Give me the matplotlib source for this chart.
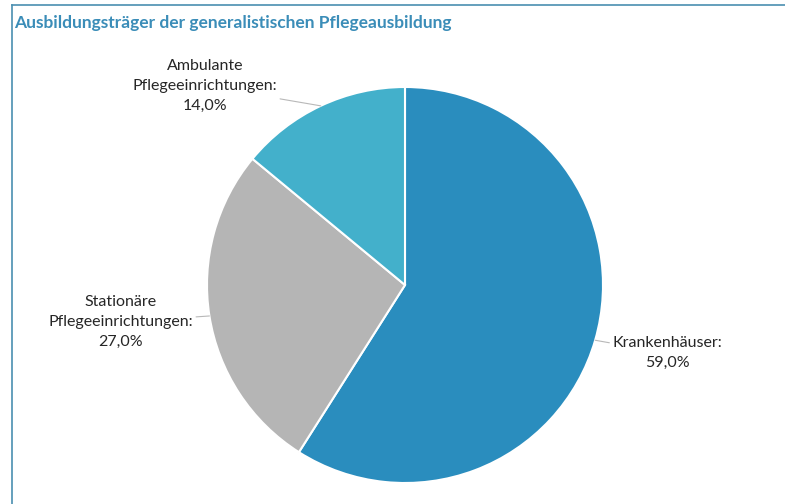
import matplotlib.pyplot as plt
import numpy as np

# data
labels = ["Krankenhäuser:", "Stationäre\nPflegeeinrichtungen:", "Ambulante\nPflegeeinrichtungen:"]
shares = [59.0, 27.0, 14.0]
colors = ["#2a8dbe", "#b5b5b5", "#43b0cb"]

# label text centres in pixels (x from left, y from top)
label_pos = [(667, 353), (121, 322), (205, 86)]

W, H = 785, 504
fig = plt.figure(figsize=(W / 100, H / 100), dpi=100)
fig.patch.set_facecolor("white")

# pie axes: centre (405, 285), radius 198 px
cx, cy, r = 405, 285, 198
ax = fig.add_axes([(cx - r) / W, (H - cy - r) / H, 2 * r / W, 2 * r / H])
wedges, _ = ax.pie(shares, colors=colors, startangle=90, counterclock=False,
                   radius=1, wedgeprops=dict(edgecolor="white", linewidth=1.5))
ax.set_xlim(-1, 1)
ax.set_ylim(-1, 1)
ax.set_aspect("equal")
ax.axis("off")

label_font = ["Lato", "DejaVu Sans"]

for w, lab, val, (px, py) in zip(wedges, labels, shares, label_pos):
    ang = np.deg2rad((w.theta1 + w.theta2) / 2)
    ex, ey = np.cos(ang), np.sin(ang)
    tx = (px - cx) / r
    ty = (cy - py) / r
    txt = f"{lab}\n{val:.1f}%".replace(".", ",")
    ax.annotate(txt, xy=(ex, ey), xytext=(tx, ty), ha="center", va="center",
                multialignment="center", fontsize=11.5, color="#262626",
                family=label_font, linespacing=1.55, annotation_clip=False,
                arrowprops=dict(arrowstyle="-", color="#b8b8b8", lw=0.8,
                                shrinkA=0, shrinkB=0, relpos=(0.5, 0.5)))

# title
fig.text(14 / W, 1 - 23 / H, "Ausbildungsträger der generalistischen Pflegeausbildung",
         ha="left", va="center", fontsize=12.5, fontweight="bold", color="#3b8db8",
         family=label_font)

# frame lines (left and top)
fig.add_artist(plt.Line2D([11.5 / W, 11.5 / W], [0, 1 - 4.5 / H], color="#4a8fb0", lw=1.2))
fig.add_artist(plt.Line2D([11.5 / W, 1], [1 - 4.5 / H, 1 - 4.5 / H], color="#4a8fb0", lw=1.2))

fig.savefig("out.png", dpi=100, facecolor="white")
